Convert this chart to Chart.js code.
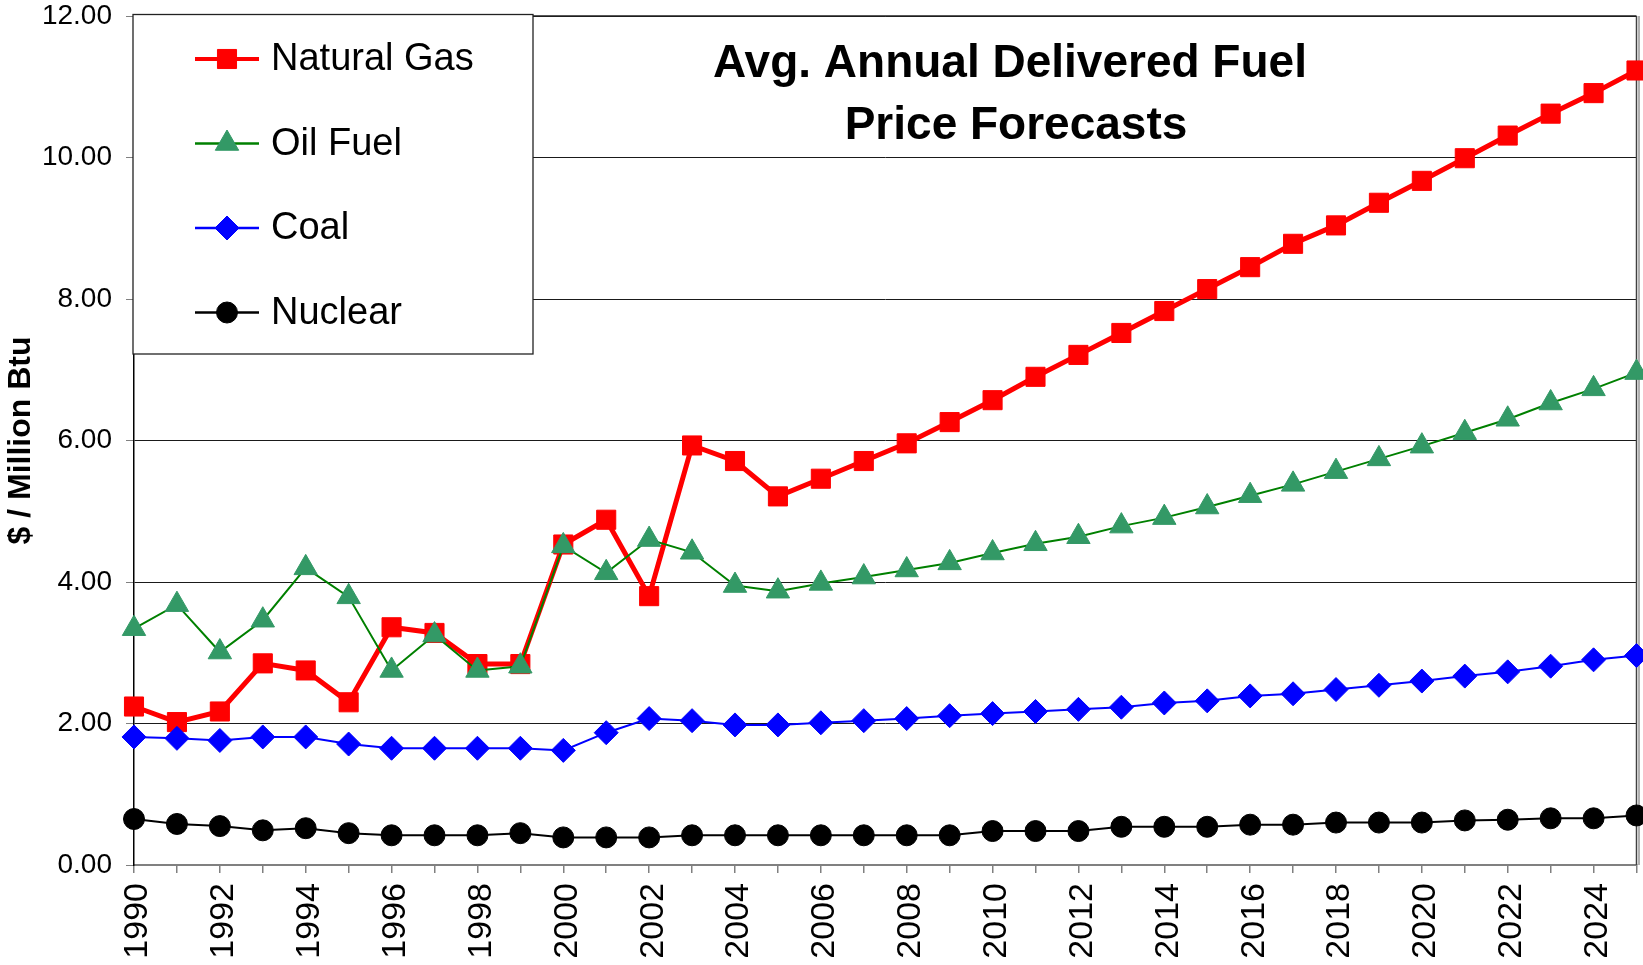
<!DOCTYPE html>
<html><head><meta charset="utf-8">
<script src="https://cdn.jsdelivr.net/npm/chart.js@4.4.1/dist/chart.umd.min.js"></script>
<style>html,body{margin:0;padding:0;background:#fff;overflow:hidden;width:1643px;height:965px}canvas{display:block}</style>
</head><body>
<canvas id="c" width="1651" height="965"></canvas>
<script>
const years = ['1990','1991','1992','1993','1994','1995','1996','1997','1998','1999',
  '2000','2001','2002','2003','2004','2005','2006','2007','2008','2009',
  '2010','2011','2012','2013','2014','2015','2016','2017','2018','2019',
  '2020','2021','2022','2023','2024','2025'];
const naturalGas = [2.24,2.02,2.17,2.85,2.75,2.30,3.36,3.28,2.84,2.84,
  4.53,4.88,3.80,5.93,5.71,5.21,5.46,5.71,5.96,6.26,
  6.57,6.90,7.21,7.52,7.83,8.14,8.45,8.78,9.04,9.36,
  9.67,9.99,10.31,10.62,10.91,11.23];
const oilFuel = [3.34,3.68,3.01,3.46,4.20,3.79,2.75,3.25,2.75,2.81,
  4.51,4.13,4.60,4.42,3.95,3.87,3.98,4.07,4.17,4.27,
  4.41,4.54,4.64,4.79,4.91,5.06,5.22,5.38,5.56,5.74,
  5.92,6.11,6.30,6.53,6.73,6.96];
const coal = [1.81,1.79,1.76,1.81,1.81,1.71,1.65,1.65,1.65,1.65,
  1.62,1.87,2.07,2.04,1.98,1.98,2.01,2.04,2.07,2.11,
  2.14,2.17,2.20,2.23,2.29,2.32,2.39,2.42,2.48,2.54,
  2.60,2.67,2.73,2.81,2.90,2.96];
const nuclear = [0.65,0.58,0.55,0.49,0.52,0.45,0.42,0.42,0.42,0.45,
  0.39,0.39,0.39,0.42,0.42,0.42,0.42,0.42,0.42,0.42,
  0.48,0.48,0.48,0.54,0.54,0.54,0.57,0.57,0.60,0.60,
  0.60,0.63,0.64,0.66,0.66,0.70];
const seriesNames = ['Natural Gas','Oil Fuel','Coal','Nuclear'];
const titleLines = ['Avg. Annual Delivered Fuel','Price Forecasts'];
const yAxisTitle = '$ / Million Btu';

const FONT = "'Liberation Sans', Arial, sans-serif";

const frame = {
  id: 'frame',
  beforeDatasetsDraw(chart) {
    const a = chart.chartArea, ctx = chart.ctx;
    ctx.save();
    ctx.strokeStyle = '#b0b0b0'; ctx.lineWidth = 2;
    ctx.beginPath(); ctx.moveTo(a.right + 2.5, a.top); ctx.lineTo(a.right + 2.5, a.bottom); ctx.stroke();
    ctx.strokeStyle = '#404040'; ctx.lineWidth = 1.5;
    ctx.beginPath(); ctx.moveTo(a.right, a.top); ctx.lineTo(a.right, a.bottom); ctx.stroke();
    ctx.strokeStyle = '#202020'; ctx.lineWidth = 1.5;
    ctx.beginPath(); ctx.moveTo(a.left, a.top); ctx.lineTo(a.right, a.top); ctx.stroke();
    ctx.restore();
  }
};

function marker(ctx, style, r, x, y) {
  ctx.beginPath();
  if (style === 'rect') {
    const s = r * Math.SQRT1_2;
    ctx.rect(x - s, y - s, 2 * s, 2 * s);
  } else if (style === 'triangle') {
    ctx.moveTo(x, y - r);
    ctx.lineTo(x + r * Math.sin(2 * Math.PI / 3), y + r * 0.5);
    ctx.lineTo(x - r * Math.sin(2 * Math.PI / 3), y + r * 0.5);
    ctx.closePath();
  } else if (style === 'rectRot') {
    ctx.moveTo(x, y - r); ctx.lineTo(x + r, y); ctx.lineTo(x, y + r); ctx.lineTo(x - r, y); ctx.closePath();
  } else {
    ctx.arc(x, y, r, 0, Math.PI * 2);
  }
  ctx.fill(); ctx.stroke();
}

const boxLegend = {
  id: 'boxLegend',
  afterDraw(chart) {
    const ctx = chart.ctx;
    ctx.save();
    const L = 133, T = 14.5, R = 533, B = 354;
    ctx.fillStyle = '#fff'; ctx.fillRect(L, T, R - L, B - T);
    ctx.strokeStyle = '#222'; ctx.lineWidth = 1.3; ctx.strokeRect(L, T, R - L, B - T);
    chart.data.datasets.forEach((ds, i) => {
      const y = 59 + i * 84.5;
      ctx.strokeStyle = ds.borderColor; ctx.lineWidth = ds.legendLineWidth;
      ctx.beginPath(); ctx.moveTo(195, y); ctx.lineTo(259, y); ctx.stroke();
      ctx.fillStyle = ds.pointBackgroundColor; ctx.strokeStyle = ds.pointBorderColor; ctx.lineWidth = 1;
      marker(ctx, ds.pointStyle, ds.pointRadius, 227, y);
      ctx.fillStyle = '#000'; ctx.font = '38px ' + FONT; ctx.textBaseline = 'middle'; ctx.textAlign = 'left';
      ctx.fillText(ds.label, 271, y + 1);
    });
    ctx.font = 'bold 46px ' + FONT; ctx.textAlign = 'center'; ctx.textBaseline = 'alphabetic'; ctx.fillStyle = '#000';
    ctx.fillText(titleLines[0], 1010, 77);
    ctx.fillText(titleLines[1], 1016, 139);
    ctx.restore();
  }
};

new Chart(document.getElementById('c'), {
  type: 'line',
  data: {
    labels: years,
    datasets: [
      { label: seriesNames[0], data: naturalGas, borderColor: '#ff0000', borderWidth: 5, legendLineWidth: 4,
        pointStyle: 'rect', pointRadius: 13.5, pointBackgroundColor: '#ff0000', pointBorderColor: '#ff0000', pointBorderWidth: 1, order: 4 },
      { label: seriesNames[1], data: oilFuel, borderColor: '#008000', borderWidth: 2, legendLineWidth: 2.5,
        pointStyle: 'triangle', pointRadius: 13.5, pointBackgroundColor: '#339966', pointBorderColor: '#339966', pointBorderWidth: 1, order: 3 },
      { label: seriesNames[2], data: coal, borderColor: '#0000ff', borderWidth: 2, legendLineWidth: 2.5,
        pointStyle: 'rectRot', pointRadius: 12, pointBackgroundColor: '#0000ff', pointBorderColor: '#0000ff', pointBorderWidth: 1, order: 2 },
      { label: seriesNames[3], data: nuclear, borderColor: '#000000', borderWidth: 2, legendLineWidth: 2.5,
        pointStyle: 'circle', pointRadius: 10.5, pointBackgroundColor: '#000000', pointBorderColor: '#000000', pointBorderWidth: 1, order: 1 }
    ]
  },
  options: {
    responsive: false,
    animation: false,
    devicePixelRatio: 1,
    layout: { padding: { top: 16, right: 1, bottom: 0, left: 0 } },
    plugins: { legend: { display: false }, title: { display: false }, tooltip: { enabled: false } },
    elements: { line: { tension: 0 } },
    scales: {
      x: {
        type: 'category',
        offset: false,
        grid: { drawOnChartArea: false, drawTicks: true, tickLength: 8, color: '#808080', lineWidth: 1.5 },
        border: { display: true, color: '#808080', width: 2 },
        ticks: {
          autoSkip: false, maxRotation: 90, minRotation: 90, padding: 10, labelOffset: 4, color: '#000',
          font: { family: FONT, size: 34 },
          callback: (v, i) => (i % 2 === 0 ? years[i] : '')
        },
        afterFit: (s) => { s.height = 100; s.paddingLeft = 0; s.paddingRight = 0; }
      },
      y: {
        min: 0, max: 12,
        grid: { color: '#1a1a1a', lineWidth: 1, tickLength: 8, tickColor: '#808080' },
        border: { display: true, color: '#000', width: 1.5 },
        ticks: { stepSize: 2, padding: 14, color: '#000', font: { family: FONT, size: 28, lineHeight: 1.1 },
          callback: (v) => Number(v).toFixed(2) },
        title: { display: true, text: yAxisTitle, color: '#000', font: { family: FONT, size: 32, weight: 'bold' }, padding: { top: 2, bottom: 0 } },
        afterFit: (s) => { s.width = 134; s.paddingTop = 0; s.paddingBottom = 0; }
      }
    }
  },
  plugins: [frame, boxLegend]
});
</script>
</body></html>
